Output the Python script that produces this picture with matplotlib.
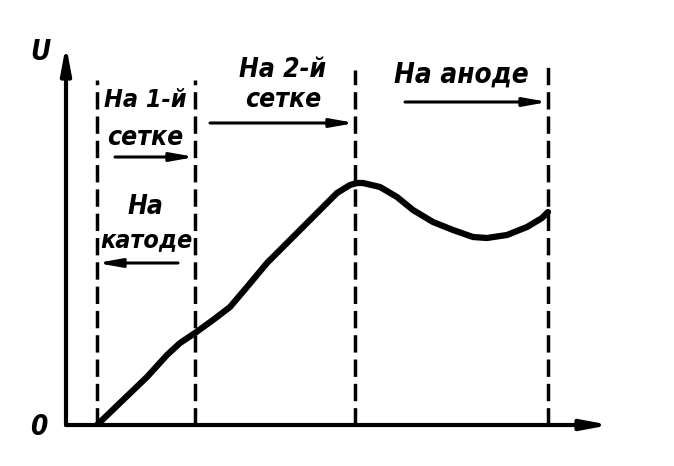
import matplotlib
matplotlib.use("Agg")
import matplotlib.pyplot as plt

# Electrode positions along the tube (arbitrary distance units)
electrode_names = ["cathode", "grid1", "grid2", "anode"]
electrode_x = [31, 129, 289, 482]
electrode_top = [345, 345, 355, 363]

# Potential distribution U(x)
curve_x = [31, 57, 81, 101, 114, 129, 147, 164, 181, 201, 224, 251, 271, 284, 291, 297,
           314, 331, 347, 367, 387, 407, 421, 441, 461, 476, 482]
curve_u = [0, 25, 48, 70, 82, 92, 105, 118, 138, 162, 185, 212, 232, 240, 242, 242,
           238, 228, 215, 203, 195, 188, 187, 190, 198, 207, 213]

# Text lines and their positions
label_lines = ["На 1-й", "сетке", "На", "катоде", "На 2-й", "сетке", "На аноде"]
label_x = [79, 79, 79, 80, 217, 217, 395]
label_y = [325, 287, 218, 185, 355, 325, 350]
label_size = [18, 19, 19, 18, 19, 19, 20]

# Arrows: start x, end x, height
arrow_from = [49, 112, 144, 339]
arrow_to = [129, 31, 289, 482]
arrow_y = [268, 162, 302, 323]

fig = plt.figure(figsize=(6.74, 4.66), dpi=100)
ax = fig.add_axes([66 / 674, (466 - 425) / 466, (610 - 66) / 674, (425 - 45) / 466])
ax.set_xlim(0, 544)
ax.set_ylim(0, 380)
ax.axis("off")

# axes with arrows
for end in [(544, 0), (0, 380)]:
    ax.annotate("", xy=end, xytext=(0, 0),
                arrowprops=dict(arrowstyle="-|>,head_length=1.6,head_width=0.3", lw=3,
                                color="black", shrinkA=0, shrinkB=0))

# dashed electrode lines
for x, top in zip(electrode_x, electrode_top):
    ax.plot([x, x], [0, top], color="black", lw=2.5, linestyle=(0, (5, 2)),
            solid_capstyle="butt")

# curve
ax.plot(curve_x, curve_u, color="black", lw=4.5, solid_capstyle="round",
        solid_joinstyle="round")

tkw = dict(family="DejaVu Sans", fontstyle="italic", fontweight="bold",
           ha="center", va="center", fontstretch="condensed")
for t, x, y, s in zip(label_lines, label_x, label_y, label_size):
    ax.text(x, y, t, fontsize=s, **tkw)
for x0, x1, y in zip(arrow_from, arrow_to, arrow_y):
    ax.annotate("", xy=(x1, y), xytext=(x0, y),
                arrowprops=dict(arrowstyle="-|>,head_length=1.4,head_width=0.25", lw=2.2,
                                color="black", shrinkA=0, shrinkB=0))

ax.text(-26, 373, "U", fontsize=20, clip_on=False, **tkw)
ax.text(-27, -2, "0", fontsize=20, clip_on=False, **tkw)

fig.savefig("out.png", dpi=100, facecolor="white")
